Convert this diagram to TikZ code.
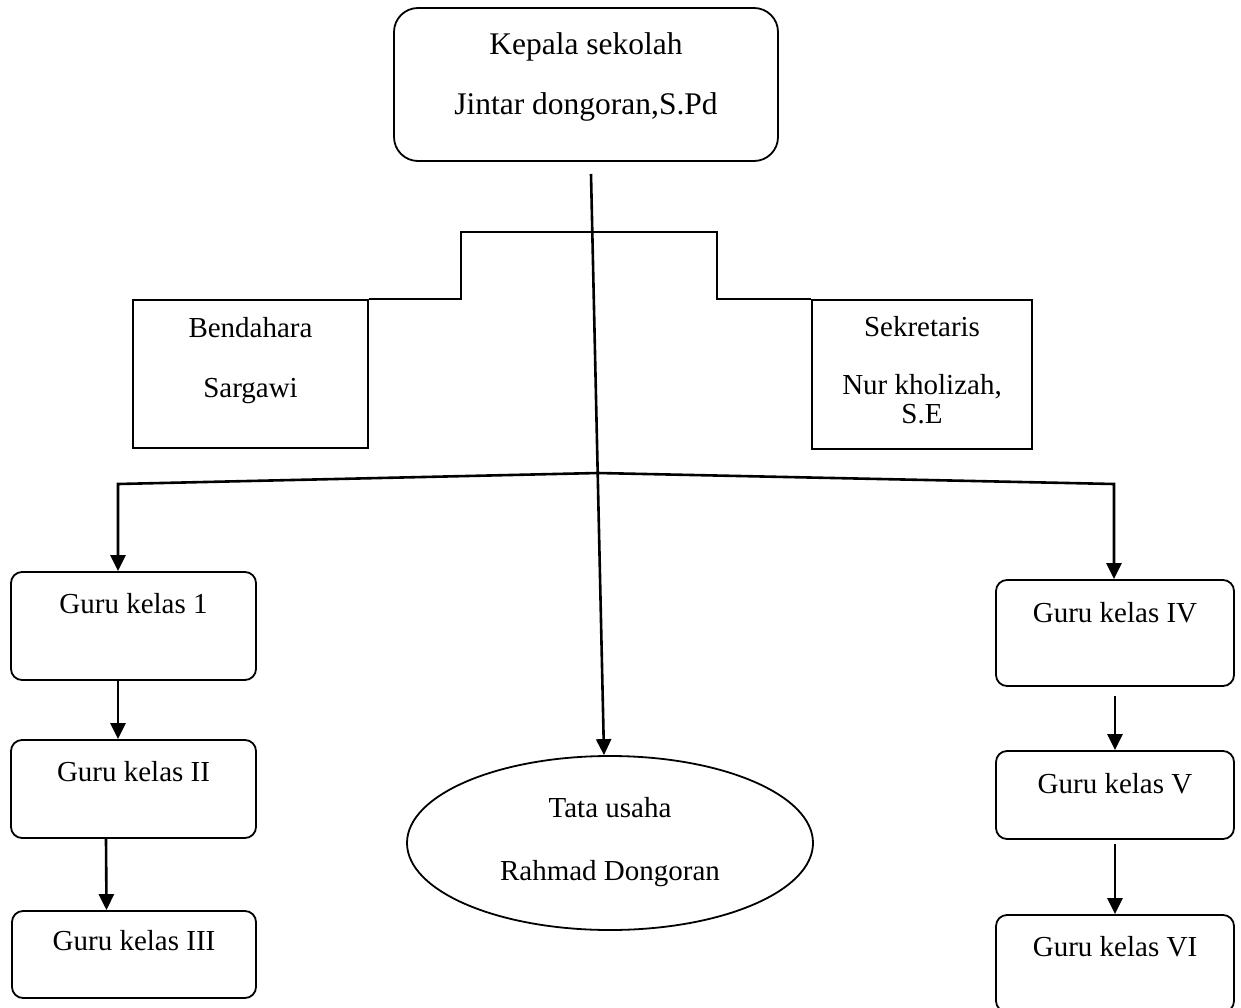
\documentclass[tikz,border=0pt]{standalone}
\usepackage{fontspec}
\setmainfont{Liberation Serif}
\usepackage{tikz}
\usetikzlibrary{shapes.geometric}
\usetikzlibrary{arrows.meta}

\begin{document}
\begin{tikzpicture}[x=1pt, y=-1pt,
                          >={Triangle[length=16pt,width=15pt]},
                          headbox/.style={rectangle, draw, rounded corners=24pt, line width=1.8pt, inner sep=0pt, align=center, font=\fontsize{31.5}{31.5}\selectfont},
                          guru/.style={rectangle, draw, rounded corners=11pt, line width=1.8pt, inner sep=0pt, align=center, font=\fontsize{29}{29}\selectfont},
                          staff/.style={rectangle, draw, line width=1.8pt, inner sep=0pt, align=center, font=\fontsize{29}{29}\selectfont},
                          oval/.style={ellipse, draw, line width=1.8pt, inner sep=0pt, align=center, font=\fontsize{29}{29}\selectfont},
                          link/.style={line width=2.6pt},
                      ]
                      \useasboundingbox (0,0) rectangle (1241,1008);
                      %Nodes
                      \node[headbox, minimum width=384pt, text height=107pt, text depth=46pt] (kepala) at (586,84.5) {Kepala sekolah\\[28.5pt]Jintar dongoran,S.Pd};
                      \node[staff, minimum width=235pt, text height=97pt, text depth=51pt]  (bend)   at (250.5,374) {Bendahara\\[31pt]Sargawi};
                      \node[staff, minimum width=220pt, text height=123pt, text depth=26pt] (sek)    at (922,374.5) {Sekretaris\\[29pt]Nur kholizah,\\S.E};
                      \node[guru, minimum width=245pt, text height=41pt, text depth=67pt]   (g1)     at (133.5,626) {Guru kelas 1};
                      \node[guru, minimum width=245pt, text height=41pt, text depth=57pt]   (g2)     at (133.5,789) {Guru kelas II};
                      \node[guru, minimum width=244pt, text height=39pt, text depth=48pt]   (g3)     at (134,954.5) {Guru kelas III};
                      \node[guru, minimum width=238pt, text height=42pt, text depth=64pt]   (g4)     at (1115,633) {Guru kelas IV};
                      \node[guru, minimum width=238pt, text height=42pt, text depth=46pt]   (g5)     at (1115,795) {Guru kelas V};
                      \node[guru, minimum width=238pt, text height=41pt, text depth=56pt]   (g6)     at (1115,963.5) {Guru kelas VI};
                      \node[oval, minimum width=406pt, minimum height=174pt, text height=90pt, text depth=16pt] (tata) at (610,843) {Tata usaha\\[34pt]Rahmad Dongoran};

                      \coordinate (top)   at (591,174);
                      \coordinate (bl)    at (461,232);
                      \coordinate (br)    at (717,232);
                      \coordinate (split) at (598,473);
                      \coordinate (lt)    at (118,484);
                      \coordinate (rt)    at (1114,484);

                      %Lines
                      \draw[line width=1.8pt] (bend.north east) -| (bl) -- (br) |- (sek.north west);
                      \draw[link, ->] (top) -- ([xshift=-6pt]tata.north);
                      \draw[link, ->] (split) -- (lt) -- (lt |- g1.north);
                      \draw[link, ->] (split) -- (rt) -- (rt |- g4.north);
                      \draw[link, ->] (lt |- g1.south) -- (lt |- g2.north);
                      \draw[link, ->] ([xshift=-27.5pt]g2.south) -- ([xshift=-27.5pt]g3.north);
                      \draw[link, ->] (g4.south) ++(0,9) -- (g5.north);
                      \draw[link, ->] (g5.south) ++(0,4) -- (g6.north);
                  \end{tikzpicture}
\end{document}
